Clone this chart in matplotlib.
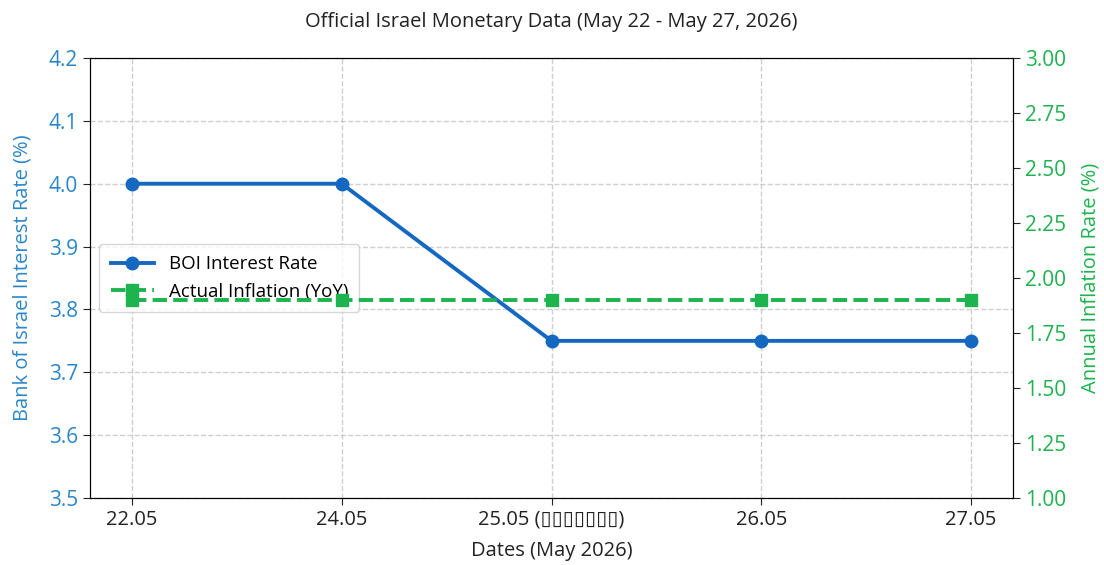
import matplotlib
matplotlib.use("Agg")
import matplotlib.pyplot as plt

dates = ["22.05", "24.05", "25.05 (\u25AF\u25AF\u25AF\u25AF\u25AF\u25AF\u25AF)", "26.05", "27.05"]
boi_rate = [4.00, 4.00, 3.75, 3.75, 3.75]
inflation = [1.9, 1.9, 1.9, 1.9, 1.9]
left_ticks = [3.5, 3.6, 3.7, 3.8, 3.9, 4.0, 4.1, 4.2]
right_ticks = [1.00, 1.25, 1.50, 1.75, 2.00, 2.25, 2.50, 2.75, 3.00]

plt.rcParams['font.family'] = ['Open Sans', 'DejaVu Sans']

blue_line = "#1468c0"
blue_text = "#2a86c8"
green = "#1db34e"

fig = plt.figure(figsize=(11.04, 5.65), dpi=100)
ax1 = fig.add_axes([0.0815, 0.1186, 0.8361, 0.7787])
ax2 = ax1.twinx()

x = list(range(len(dates)))
l1, = ax1.plot(x, boi_rate, color=blue_line, marker='o', lw=2.8, ms=9, label='BOI Interest Rate')
l2, = ax2.plot(x, inflation, color=green, marker='s', ls='--', lw=2.8, ms=8.5, label='Actual Inflation (YoY)')

ax1.set_ylim(3.5, 4.2)
ax1.set_yticks(left_ticks)
ax1.set_yticklabels([f"{v:.1f}" for v in left_ticks])
ax2.set_ylim(1.0, 3.0)
ax2.set_yticks(right_ticks)
ax2.set_yticklabels([f"{v:.2f}" for v in right_ticks])
ax1.set_xlim(-0.2, 4.2)
ax1.set_xticks(x)
ax1.set_xticklabels(dates, fontsize=14.5, color="#222222")

ax1.tick_params(axis='y', labelsize=15, colors=blue_text, length=5)
ax1.tick_params(axis='y', color="#222222")
ax2.tick_params(axis='y', labelsize=15, labelcolor=green, color="#222222", length=5)
ax1.tick_params(axis='x', color="#222222", length=5)

ax1.set_ylabel("Bank of Israel Interest Rate (%)", color=blue_text, fontsize=14.5, labelpad=12)
ax2.set_ylabel("Annual Inflation Rate (%)", color=green, fontsize=14.5, labelpad=10)
ax1.set_xlabel("Dates (May 2026)", fontsize=14.5, color="#222222", labelpad=8)
ax1.set_title("Official Israel Monetary Data (May 22 - May 27, 2026)", fontsize=14.5, color="#222222", pad=22)

ax1.grid(True, ls='--', color='#bbbbbb', alpha=0.7, lw=1)
ax1.legend(handles=[l1, l2], loc='center left', fontsize=13.5, frameon=True,
           handlelength=2.3, borderpad=0.6)

fig.savefig("out.png", dpi=100)
